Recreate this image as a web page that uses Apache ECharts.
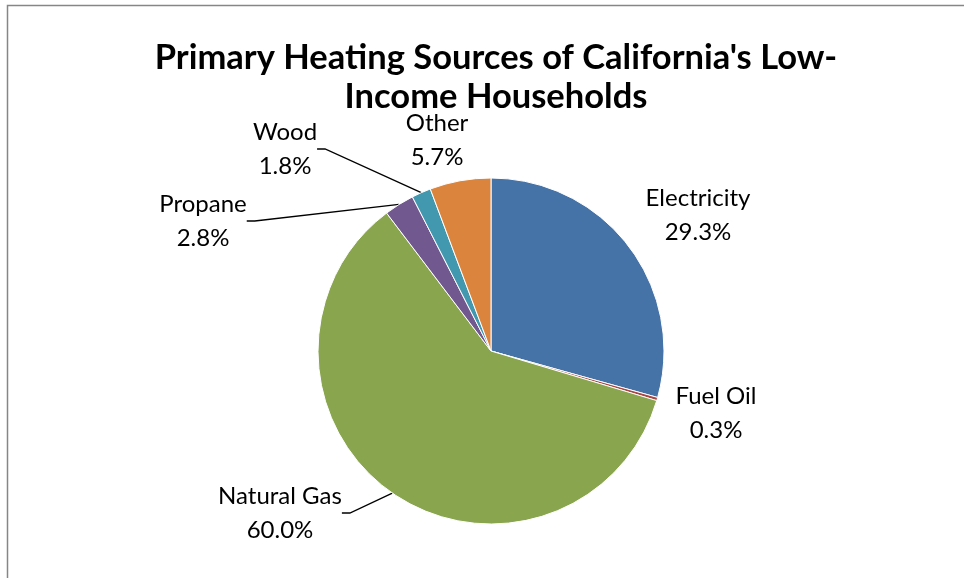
<!DOCTYPE html>
<html>
<head>
<meta charset="utf-8">
<script src="https://cdn.jsdelivr.net/npm/echarts@6/dist/echarts.min.js"></script>
<style>
  html, body { margin: 0; padding: 0; background: #fff; }
  #chart { width: 964px; height: 578px; }
</style>
</head>
<body>
<div id="chart"></div>
<script>
// data
const categories = ['Electricity', 'Fuel Oil', 'Natural Gas', 'Propane', 'Wood', 'Other']
const shares = [29.3, 0.3, 60.0, 2.8, 1.8, 5.7]
const sliceColors = ['#4572A7', '#AA4643', '#89A54E', '#71588F', '#4198AF', '#DB843D']

// where each label sits (px, centre of the text block) and whether it gets a leader line
const labelSpots = [
  [698, 215, false],
  [716, 413, false],
  [280, 513, true],
  [203, 221, true],
  [285, 149, true],
  [437, 140, false]
]

const fontFam = 'Lato, "Open Sans", sans-serif'

const chart = echarts.init(document.getElementById('chart'))

chart.setOption({
  animation: false,
  backgroundColor: '#fff',
  title: {
    text: "Primary Heating Sources of California's Low-\nIncome Households",
    left: 491,
    top: 33,
    textAlign: 'center',
    textStyle: { fontFamily: fontFam, fontSize: 34.5, fontWeight: 'bold', color: '#000', lineHeight: 39 }
  },
  graphic: [
    {
      type: 'rect',
      shape: { x: 7.5, y: 5.5, width: 1200, height: 1200 },
      style: { fill: 'none', stroke: '#868686', lineWidth: 1.5 },
      silent: true
    }
  ],
  series: [
    {
      type: 'pie',
      center: [491, 351],
      radius: 173,
      startAngle: 90,
      clockwise: true,
      itemStyle: { borderColor: '#fff', borderWidth: 1 },
      label: {
        show: true,
        position: 'outside',
        formatter: p => p.name + '\n' + p.value.toFixed(1) + '%',
        fontFamily: fontFam,
        fontSize: 24,
        lineHeight: 34,
        color: '#000',
        align: 'center'
      },
      labelLine: {
        show: true,
        length: 10,
        length2: 8,
        smooth: false,
        lineStyle: { color: '#000', width: 1.3 }
      },
      labelLayout: p => {
        const spot = labelSpots[p.dataIndex]
        return { x: spot[0], y: spot[1], align: 'center', verticalAlign: 'middle' }
      },
      data: categories.map((c, i) => ({
        name: c,
        value: shares[i],
        itemStyle: { color: sliceColors[i] },
        labelLine: { show: labelSpots[i][2] }
      }))
    }
  ]
})
</script>
</body>
</html>
